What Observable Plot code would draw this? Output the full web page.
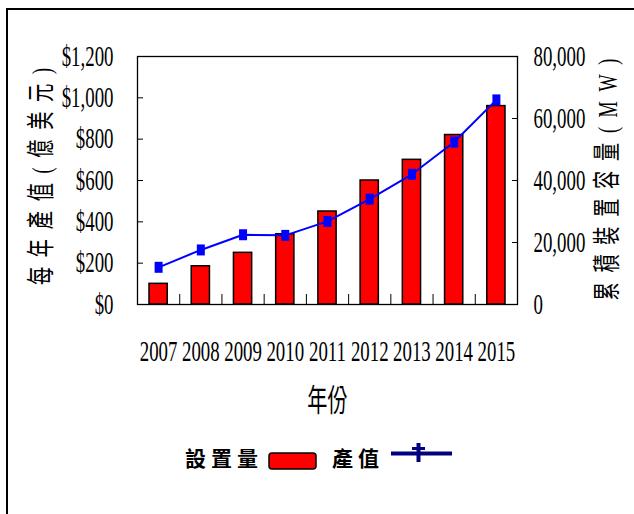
<!DOCTYPE html>
<html>
<head>
<meta charset="utf-8">
<script src="https://cdn.jsdelivr.net/npm/d3@7"></script>
<script src="https://cdn.jsdelivr.net/npm/@observablehq/plot@0.6"></script>
<style>
  html, body { margin: 0; padding: 0; background: #fff; }
  body { width: 634px; height: 514px; overflow: hidden; position: relative; }
  #chart { position: absolute; left: 0; top: 0; }
  #border { position: absolute; left: 6px; top: 8px; width: 900px; height: 900px; border: 2px solid #000; box-sizing: border-box; pointer-events: none; }
  .lt { position: absolute; top: 447px; font: bold 21px/21px "Noto Sans CJK TC", sans-serif; letter-spacing: 5px; color: #000; white-space: nowrap; }
  .sw { position: absolute; overflow: visible; }
</style>
</head>
<body>
<div id="chart"></div>
<div id="border"></div>
<span class="lt" id="lg1" style="left:185px"></span>
<svg class="sw" style="left:268px;top:452px" width="50" height="19"><rect x="1" y="1" width="47" height="16" rx="3" ry="3" fill="#ff0000" stroke="#000" stroke-width="1.5"/></svg>
<span class="lt" id="lg2" style="left:332px"></span>
<svg class="sw" style="left:390px;top:441px" width="64" height="24">
  <line x1="1" y1="12.5" x2="62" y2="12.5" stroke="#000080" stroke-width="4"/>
  <line x1="28.5" y1="2" x2="28.5" y2="21" stroke="#000080" stroke-width="4"/>
  <line x1="22" y1="7.5" x2="35" y2="7.5" stroke="#000080" stroke-width="3"/>
</svg>
<script>
// ---- data ----
const years = [2007, 2008, 2009, 2010, 2011, 2012, 2013, 2014, 2015];
const outputValue = [100, 185, 250, 340, 450, 600, 700, 820, 960];          // 產值 (億美元) – bars, left axis
const capacity = [12000, 17600, 22500, 22300, 26800, 34000, 42000, 52400, 66000]; // 累積裝置容量 (MW) – line, right axis
const leftTicks = [0, 200, 400, 600, 800, 1000, 1200];
const rightTicks = [0, 20000, 40000, 60000, 80000];
const leftTitle = "每年產值(億美元)";
const rightTitle = "累積裝置容量(MW)";
const xTitle = "年份";
const legendLabels = ["設置量", "產值"];

document.getElementById("lg1").textContent = legendLabels[0];
document.getElementById("lg2").textContent = legendLabels[1];

const data = years.map((year, i) => ({year, value: outputValue[i], capacity: capacity[i]}));
const leftMax = 1200, rightMax = 80000;
const k = leftMax / rightMax; // map right-axis values onto the shared y scale

const rectSymbol = {
  draw(ctx, size) {
    const r = Math.sqrt(size / Math.PI);
    ctx.rect(-r * 0.8, -r * 1.1, r * 1.6, r * 2.2);
  }
};

const serif = "'Liberation Serif', 'Noto Sans CJK TC', serif";
const fmt = d3.format(",");

const plot = Plot.plot({
  width: 634,
  height: 440,
  marginTop: 56,
  marginBottom: 136,
  marginLeft: 137,
  marginRight: 117,
  x: {type: "linear", domain: [years[0] - 0.5, years[years.length - 1] + 0.5], axis: null},
  y: {domain: [0, leftMax], axis: null},
  style: {fontFamily: serif, fontSize: "29px", color: "#000", background: "transparent", overflow: "visible"},
  marks: [
    Plot.rectY(data, {x1: d => d.year - 0.5, x2: d => d.year + 0.5, y: "value", insetLeft: 12, insetRight: 12, fill: "#ff0000", stroke: "#000", strokeWidth: 1.5}),
    Plot.frame({stroke: "#000", strokeWidth: 1.3}),
    Plot.axisY({ticks: leftTicks, tickSize: -6, tickPadding: 30, tickFormat: d => "$" + fmt(d), label: null, fontSize: 29, fontFamily: serif}),
    Plot.axisY({anchor: "right", ticks: rightTicks.map(t => t * k), tickSize: -6, tickPadding: 22, tickFormat: d => fmt(Math.round(d / k)), label: null, fontSize: 29, fontFamily: serif}),
    Plot.axisX({ticks: years, tickSize: 0, tickPadding: 36, tickFormat: d => String(d), label: null, fontSize: 29, fontFamily: serif}),
    Plot.axisX({ticks: years.slice(0, -1).map(y => y + 0.5), tickSize: -10, tickFormat: () => "", label: null}),
    Plot.line(data, {x: "year", y: d => d.capacity * k, stroke: "#0000ff", strokeWidth: 2}),
    Plot.dot(data, {x: "year", y: d => d.capacity * k, symbol: rectSymbol, r: 5, fill: "#0000ff", stroke: "none"}),
    Plot.text([leftTitle], {frameAnchor: "left", textAnchor: "middle", dx: -95, dy: -4, rotate: -90, fontSize: 28, fontFamily: serif, fill: "#000"}),
    Plot.text([rightTitle], {frameAnchor: "right", textAnchor: "middle", dx: 91, dy: -1, rotate: -90, fontSize: 28, fontFamily: serif, fill: "#000"}),
    Plot.text([xTitle], {frameAnchor: "bottom", dy: 106, fontSize: 31, fontFamily: serif, fill: "#000"})
  ]
});

// narrow (condensed) text like the original: compress each label along its own baseline
plot.querySelectorAll("text").forEach(el => {
  const t = el.getAttribute("transform");
  if (t) el.setAttribute("transform", t + " scale(0.65,1)");
  else {
    const x = parseFloat(el.getAttribute("x")) || 0;
    el.removeAttribute("x");
    el.setAttribute("transform", `translate(${x},0) scale(0.65,1)`);
  }
});
// spread the rotated CJK titles along their length (local units, before the 0.65 compression)
plot.querySelectorAll("text").forEach(el => {
  if (el.textContent === leftTitle) { el.setAttribute("textLength", 334); el.setAttribute("lengthAdjust", "spacing"); }
  if (el.textContent === rightTitle) { el.setAttribute("textLength", 372); el.setAttribute("lengthAdjust", "spacing"); }
});

document.getElementById("chart").appendChild(plot);
</script>
</body>
</html>
